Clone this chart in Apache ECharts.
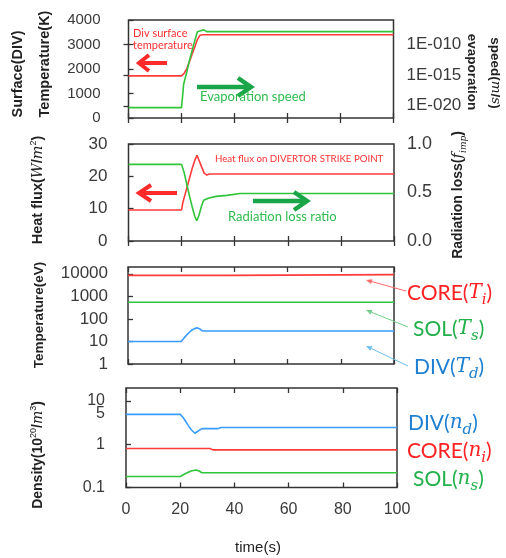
<!DOCTYPE html>
<html><head><meta charset="utf-8">
<script src="https://cdn.jsdelivr.net/npm/echarts@6/dist/echarts.min.js"></script>
<style>html,body{margin:0;padding:0;background:#fff}#c{width:506px;height:558px}</style>
</head><body><div id="c"></div>
<script>
// ---------- Panel 1: divertor surface temperature (K) & evaporation speed (m/s)
const surfTempT   = [0, 20, 21, 22, 23, 24, 25, 26, 27, 28, 100];
const surfTempK   = [1720, 1720, 1820, 2020, 2300, 2600, 2900, 3200, 3380, 3400, 3400];
const evapT       = [0, 20, 20.4, 20.8, 22, 23, 24, 25, 26, 26.6, 28.5, 29.5, 100];
const evapSpeed   = [5e-21, 5e-21, 3.2e-19, 3.2e-17, 3.2e-15, 2.5e-13, 1e-11, 4e-10, 1.25e-8, 2.5e-8, 2.5e-8, 1.25e-8, 1.25e-8];
const p1LeftTicks = [0, 1000, 2000, 3000, 4000];
const p1RightTicks = [1e-20, 1e-15, 1e-10];

// ---------- Panel 2: heat flux (W/m2) & radiation loss ratio
const heatT    = [0, 20, 20.5, 21, 22, 23, 24, 25, 25.8, 26.5, 27.5, 28.5, 29.5, 30.5, 100];
const heatFlux = [9.6, 9.6, 12, 13.5, 16.5, 19.5, 22.5, 25, 26.5, 26, 23, 21, 20.4, 20.7, 20.7];
const radT     = [0, 20, 21, 22, 23, 24, 25, 25.7, 26.5, 27.5, 28.3, 30, 33, 37, 42, 100];
const radLoss  = [0.79, 0.79, 0.70, 0.58, 0.46, 0.35, 0.25, 0.21, 0.26, 0.36, 0.42, 0.44, 0.46, 0.47, 0.49, 0.49];

// ---------- Panel 3: temperatures (eV)
const coreTiT = [0, 38, 38.5, 100];
const coreTi  = [8500, 8500, 9200, 9200];
const solTsT  = [0, 100];
const solTs   = [550, 550];
const divTdT  = [0, 20, 21, 22, 23, 24, 25, 26, 27, 28, 100];
const divTd   = [10, 10, 14, 19, 25, 32, 37, 40, 36, 29, 29];
const p3Ticks = [1, 10, 100, 1000, 10000];

// ---------- Panel 4: densities (1e20 m^-3)
const divNdT  = [0, 20, 21, 22, 23, 24, 25.4, 26.5, 28, 34, 35, 100];
const divNd   = [4.9, 4.9, 4.2, 3.4, 2.7, 2.2, 1.8, 2.0, 2.3, 2.3, 2.45, 2.45];
const coreNiT = [0, 31, 32, 100];
const coreNi  = [0.8, 0.8, 0.74, 0.74];
const solNsT  = [0, 20, 22, 24, 25.8, 27, 28, 100];
const solNs   = [0.18, 0.18, 0.21, 0.24, 0.255, 0.24, 0.22, 0.22];
const p4LabelTicks = [0.1, 1, 10];
const p4ExtraLabel = [5];
const p4Ticks = [0.1, 1, 10];

const timeTicks = [0, 20, 40, 60, 80, 100];

const RED = '#ff3b3b', GREEN = '#2fc43a', BLUE = '#3a9cff';
const pair = (t, v) => t.map((x, i) => [x, v[i]]);

const grids = [
  {left: 128.5, top: 20,  width: 265, height: 98},
  {left: 128.5, top: 144, width: 265.5, height: 97},
  {left: 128,   top: 267, width: 266, height: 97},
  {left: 126,   top: 388, width: 271, height: 99.5}
];
const frame = '#333';
const tickStyle = {show: true, inside: true, length: 5, lineStyle: {color: frame, width: 1.3}};
const lblFont = '"Liberation Sans", Arial, sans-serif';

const xAxes = [];
grids.forEach((g, i) => {
  xAxes.push({type: 'value', gridIndex: i, min: 0, max: 100, interval: 20, position: 'bottom',
    axisLine: {show: false}, splitLine: {show: false},
    axisTick: Object.assign({}, tickStyle),
    axisLabel: {show: i === 3, fontSize: 16, color: '#3a3a3a', fontFamily: lblFont, margin: 14, formatter: v => String(v)}});
  xAxes.push({type: 'value', gridIndex: i, min: 0, max: 100, interval: 20, position: 'top',
    axisLine: {show: false}, splitLine: {show: false},
    axisTick: Object.assign({}, tickStyle), axisLabel: {show: false}});
});

const p4Fmt = v => (v < 1 ? v.toFixed(1) : String(Math.round(v)));
const yAxes = [
  // 0: panel1 left
  {type: 'value', gridIndex: 0, min: 0, max: 4000, interval: 1000, position: 'left',
   axisLine: {show: false}, splitLine: {show: false}, axisTick: Object.assign({}, tickStyle),
   axisLabel: {fontSize: 15, color: '#3a3a3a', fontFamily: lblFont, margin: 28, formatter: v => String(v)}},
  // 1: panel1 right log
  {type: 'log', logBase: 10, gridIndex: 0, min: 1e-22, max: 1e-6, position: 'right',
   axisLine: {show: false}, splitLine: {show: false},
   axisTick: Object.assign({}, tickStyle, {customValues: p1RightTicks}),
   axisLabel: {customValues: p1RightTicks, hideOverlap: false, fontSize: 17, color: '#3a3a3a', fontFamily: lblFont, margin: 13,
     formatter: v => '1E-' + String(-Math.round(Math.log10(v))).padStart(3, '0')}},
  // 2: panel2 left
  {type: 'value', gridIndex: 1, min: 0, max: 30, interval: 10, position: 'left',
   axisLine: {show: false}, splitLine: {show: false}, axisTick: Object.assign({}, tickStyle),
   axisLabel: {fontSize: 17, color: '#3a3a3a', fontFamily: lblFont, margin: 21}},
  // 3: panel2 right
  {type: 'value', gridIndex: 1, min: 0, max: 1, interval: 0.5, position: 'right',
   axisLine: {show: false}, splitLine: {show: false}, axisTick: {show: false},
   axisLabel: {fontSize: 18, color: '#3a3a3a', fontFamily: lblFont, margin: 13, formatter: v => v.toFixed(1)}},
  // 4: panel3 left log
  {type: 'log', logBase: 10, gridIndex: 2, min: 1, max: 20000, position: 'left',
   axisLine: {show: false}, splitLine: {show: false},
   axisTick: Object.assign({}, tickStyle, {customValues: p3Ticks}),
   axisLabel: {customValues: p3Ticks, hideOverlap: false, fontSize: 17, color: '#3a3a3a', fontFamily: lblFont, margin: 20,
     formatter: v => String(Math.round(v))}},
  // 5: panel4 left log
  {type: 'log', logBase: 10, gridIndex: 3, min: 0.1, max: 20, position: 'left',
   axisLine: {show: false}, splitLine: {show: false},
   axisTick: Object.assign({}, tickStyle, {customValues: p4Ticks}),
   axisLabel: {customValues: p4LabelTicks, hideOverlap: false,
     fontSize: 16, color: '#3a3a3a', fontFamily: lblFont, margin: 21, formatter: p4Fmt}},
  // 6: panel4 overlay axis carrying the "5" label only
  {type: 'log', logBase: 10, gridIndex: 3, min: 0.1, max: 20, position: 'left', offset: 0,
   axisLine: {show: false}, splitLine: {show: false}, axisTick: {show: false},
   axisLabel: {customValues: p4ExtraLabel, hideOverlap: false,
     fontSize: 16, color: '#3a3a3a', fontFamily: lblFont, margin: 21, formatter: p4Fmt}}
];

function line(name, xi, yi, data, color) {
  return {name, type: 'line', xAxisIndex: xi, yAxisIndex: yi, data, showSymbol: false, symbol: 'none',
    lineStyle: {color, width: 1.6}, itemStyle: {color}, animation: false, z: 3};
}
const series = [
  line('Div surface temperature', 0, 0, pair(surfTempT, surfTempK), RED),
  line('Evaporation speed', 0, 1, pair(evapT, evapSpeed), GREEN),
  line('Heat flux', 2, 2, pair(heatT, heatFlux), RED),
  line('Radiation loss ratio', 2, 3, pair(radT, radLoss), GREEN),
  line('CORE(Ti)', 4, 4, pair(coreTiT, coreTi), RED),
  line('SOL(Ts)', 4, 4, pair(solTsT, solTs), GREEN),
  line('DIV(Td)', 4, 4, pair(divTdT, divTd), BLUE),
  line('DIV(nd)', 6, 5, pair(divNdT, divNd), BLUE),
  line('CORE(ni)', 6, 5, pair(coreNiT, coreNi), RED),
  line('SOL(ns)', 6, 5, pair(solNsT, solNs), GREEN)
];

// ---------- graphic helpers
const annFont = 'Lato, "Open Sans", sans-serif';
function fatArrow(x1, x2, y, color, w, hl, hh) {
  const s = Math.sign(x2 - x1);
  return [
    {type: 'line', shape: {x1, y1: y, x2: x2 - s * 2, y2: y}, style: {stroke: color, lineWidth: w}, z: 10},
    {type: 'polyline', shape: {points: [[x2 - s * hl, y - hh], [x2, y], [x2 - s * hl, y + hh]]},
     style: {stroke: color, lineWidth: w, fill: null, lineJoin: 'miter'}, z: 10}
  ];
}
function thinArrow(x1, y1, x2, y2, color) {
  const a = Math.atan2(y2 - y1, x2 - x1), L = 6, W = 2.5;
  const bx = x2 - L * Math.cos(a), by = y2 - L * Math.sin(a);
  return [
    {type: 'line', shape: {x1, y1, x2: bx, y2: by}, style: {stroke: color, lineWidth: 1}, z: 10},
    {type: 'polygon', shape: {points: [[x2, y2], [bx - W * Math.sin(a), by + W * Math.cos(a)], [bx + W * Math.sin(a), by - W * Math.cos(a)]]},
     style: {fill: color}, z: 10}
  ];
}
function txt(x, y, text, font, fill, align, rot, rich) {
  const o = {type: 'text', x, y, z: 10, style: {text, font, fill, textAlign: align || 'left', align: align || 'left',
    textVerticalAlign: 'middle', verticalAlign: 'middle'}};
  if (rot) o.rotation = rot;
  if (rich) o.style.rich = rich;
  return o;
}
const titleFont = 'bold 14.5px "Liberation Sans", Arial, sans-serif';
const mathI = (sz, w) => ({fontFamily: '"DejaVu Serif", "Liberation Serif", serif', fontStyle: 'italic', fontSize: sz, fontWeight: w || 'normal'});

const labelRich = (color) => ({
  n: {fontFamily: annFont, fontSize: 21, fill: color, color: color},
  m: Object.assign(mathI(20), {fill: color, color: color}),
  s: Object.assign(mathI(15), {fill: color, color: color, verticalAlign: 'bottom', lineHeight: 30, padding: [9, 0, 0, 0]})
});

const graphic = [].concat(
  // left titles
  txt(18, 74, 'Surface(DIV)', titleFont, '#222', 'center', Math.PI / 2),
  txt(45, 64, 'Temperature(K)', titleFont, '#222', 'center', Math.PI / 2),
  txt(38, 190, '{b|Heat flux(}{i|W}{b|/}{i|m}{p|2}{b|)}', titleFont, '#222', 'center', Math.PI / 2, {
    b: {fontFamily: lblFont, fontWeight: 'bold', fontSize: 14.5},
    i: mathI(14.5),
    p: {fontFamily: lblFont, fontSize: 9, verticalAlign: 'top', lineHeight: 18, padding: [0, 0, 8, 0]}
  }),
  txt(39, 315, 'Temperature(eV)', 'bold 13.5px "Liberation Sans", Arial, sans-serif', '#222', 'center', Math.PI / 2),
  txt(38, 455, '{b|Density(10}{p|20}{b|/}{i|m}{p|3}{b|)}', titleFont, '#222', 'center', Math.PI / 2, {
    b: {fontFamily: lblFont, fontWeight: 'bold', fontSize: 14},
    i: mathI(14),
    p: {fontFamily: lblFont, fontSize: 9, verticalAlign: 'top', lineHeight: 18, padding: [0, 0, 8, 0]}
  }),
  // right titles
  txt(472, 72, 'evaporation', 'bold 13.5px "Liberation Sans", Arial, sans-serif', '#222', 'center', -Math.PI / 2),
  txt(495, 73, '{b|speed(}{i|m}{b|/}{i|s}{b|)}', titleFont, '#222', 'center', -Math.PI / 2, {
    b: {fontFamily: lblFont, fontWeight: 'bold', fontSize: 13.5},
    i: mathI(13.5)
  }),
  txt(458, 195, '{b|Radiation loss(}{i|f}{s|imp}{b|)}', titleFont, '#222', 'center', Math.PI / 2, {
    b: {fontFamily: lblFont, fontWeight: 'bold', fontSize: 14},
    i: mathI(15),
    s: Object.assign(mathI(9), {verticalAlign: 'bottom', lineHeight: 20, padding: [6, 0, 0, 0]})
  }),
  // panel 1 annotations
  txt(133, 33, 'Div surface', '11px ' + annFont, '#ff3030', 'left'),
  txt(133, 45, 'temperature', '11px ' + annFont, '#ff3030', 'left'),
  fatArrow(167, 139, 63, '#ff2a2a', 4, 10, 8),
  fatArrow(197, 251, 87, '#1aa548', 4.5, 13, 9),
  txt(200, 97, 'Evaporation speed', '13px ' + annFont, '#2ebc4e', 'left'),
  // panel 2 annotations
  txt(215, 159, 'Heat flux on DIVERTOR STRIKE POINT', '9.7px ' + annFont, '#ff3030', 'left'),
  fatArrow(177, 139, 193, '#ff2a2a', 4, 12, 8),
  fatArrow(253, 307, 201, '#1aa548', 4.5, 13, 9),
  txt(228, 217, 'Radiation loss ratio', '13px ' + annFont, '#2ebc4e', 'left'),
  // panel 3 labels
  thinArrow(406, 291, 366, 280, '#ff6b6b'),
  thinArrow(408, 327, 366, 310, '#6fcf8a'),
  thinArrow(408, 366, 366, 346, '#6cc0ee'),
  txt(407, 293, '{n|CORE(}{m|T}{s|i}{n|)}', '21px ' + annFont, '#ff2222', 'left', 0, labelRich('#ff2222')),
  txt(413, 329, '{n|SOL(}{m|T}{s|s}{n|)}', '21px ' + annFont, '#22b04a', 'left', 0, labelRich('#22b04a')),
  txt(414, 367, '{n|DIV(}{m|T}{s|d}{n|)}', '21px ' + annFont, '#1f7fd0', 'left', 0, labelRich('#1f7fd0')),
  // panel 4 labels
  txt(408, 423, '{n|DIV(}{m|n}{s|d}{n|)}', '21px ' + annFont, '#1f7fd0', 'left', 0, labelRich('#1f7fd0')),
  txt(407, 451, '{n|CORE(}{m|n}{s|i}{n|)}', '21px ' + annFont, '#ff2222', 'left', 0, labelRich('#ff2222')),
  txt(413, 479, '{n|SOL(}{m|n}{s|s}{n|)}', '21px ' + annFont, '#22b04a', 'left', 0, labelRich('#22b04a')),
  // x axis title
  txt(258, 548, 'time(s)', '15px "Liberation Sans", Arial, sans-serif', '#222', 'center')
);

const chart = echarts.init(document.getElementById('c'), null, {renderer: 'canvas'});
chart.setOption({
  animation: false,
  backgroundColor: '#fff',
  grid: grids.map(g => Object.assign({show: true, borderColor: frame, borderWidth: 1.5, backgroundColor: 'transparent', containLabel: false}, g)),
  xAxis: xAxes,
  yAxis: yAxes,
  series,
  graphic
});
</script></body></html>
